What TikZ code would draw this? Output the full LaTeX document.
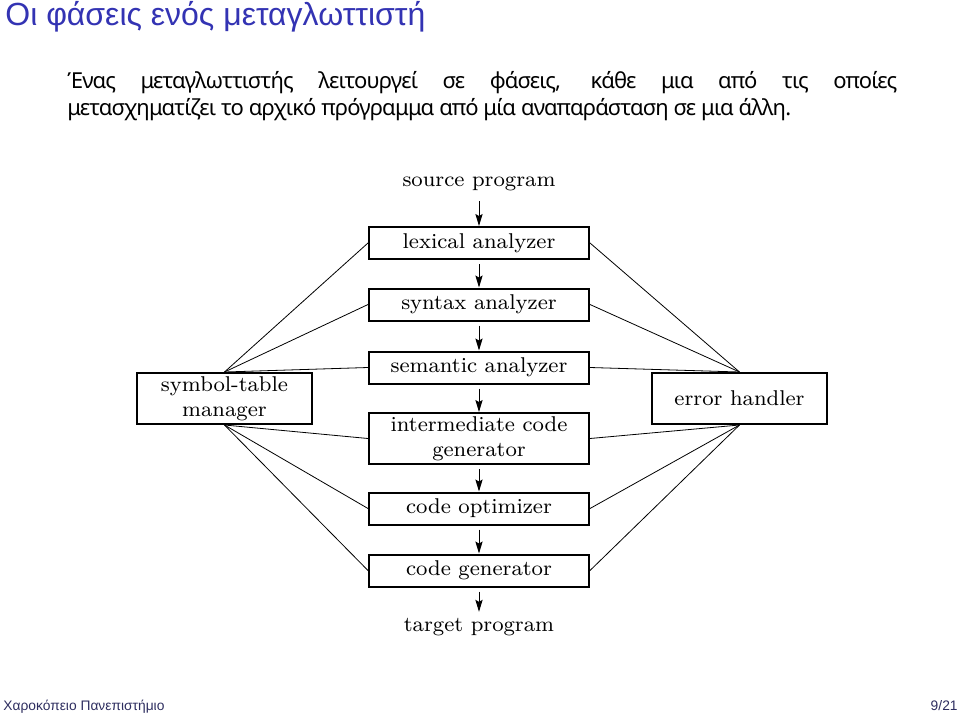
\documentclass[tikz,border=0pt]{standalone}
\usepackage{fontspec}
\newfontfamily\titlefont{Liberation Sans}
\newfontfamily\bodyfont[LetterSpace=-3.8]{Noto Sans}
\newfontfamily\boxfont{lmroman8-regular.otf}
\usetikzlibrary{arrows.meta,positioning}
\definecolor{slideblue}{RGB}{51,51,179}
\definecolor{footblue}{RGB}{45,45,95}
\newcommand\diagfont{\boxfont\fontsize{10.7}{12.5}\selectfont}

\begin{document}
\begin{tikzpicture}[x=0.5pt,y=-0.5pt,
  phase/.style={draw, line width=1pt, minimum width=110pt, minimum height=16pt,
    inner sep=0pt, align=center, font=\diagfont},
  side/.style={phase, minimum width=87.5pt, minimum height=25.5pt},
  plain/.style={inner sep=3pt, font=\diagfont},
  flow/.style={-{Stealth[length=6pt,width=3.6pt,inset=1pt]}, line width=0.5pt, shorten <=2pt},
  link/.style={line width=0.4pt}]
\useasboundingbox (0,0) rectangle (960,718);

% slide title, text and footer
\node[anchor=base west, inner sep=0pt, font=\titlefont\fontsize{16}{18}\selectfont, text=slideblue]
  (title) at (5,25) {Οι φάσεις ενός μεταγλωττιστή};
\node[anchor=base west, inner sep=0pt, font=\bodyfont\fontsize{11}{13}\selectfont]
  (line1) at (67,88) {\makebox[415pt][s]{Ένας μεταγλωττιστής λειτουργεί σε φάσεις, κάθε μια από τις οποίες}};
\node[anchor=base west, inner sep=0pt, font=\bodyfont\fontsize{11}{13}\selectfont]
  (line2) at (67,115) {μετασχηματίζει το αρχικό πρόγραμμα από μία αναπαράσταση σε μια άλλη.};
\node[anchor=base west, inner sep=0pt, font=\titlefont\fontsize{6.9}{8}\selectfont, text=footblue]
  (uni) at (3,710) {Χαροκόπειο Πανεπιστήμιο};
\node[anchor=base east, inner sep=0pt, font=\titlefont\fontsize{6.9}{8}\selectfont, text=footblue]
  (page) at (958,710) {9/21};

% phases
\node[plain] (src) at (479,184) {source program};
\node[phase] (lex) at (479,243) {lexical analyzer};
\node[phase] (syn) at (479,304.5) {syntax analyzer};
\node[phase] (sem) at (479,367.5) {semantic analyzer};
\node[phase, minimum height=25.5pt] (inter) at (479,438.5) {intermediate code\\generator};
\node[phase] (opt) at (479,508.5) {code optimizer};
\node[phase] (gen) at (479,570.5) {code generator};
\node[plain] (tgt) at (479,627) {target program};

\node[side] (sym) at (224.5,398.5) {symbol-table\\manager};
\node[side] (err) at (739.5,398.5) {error handler};

\foreach \a/\b in {src/lex,lex/syn,syn/sem,sem/inter,inter/opt,opt/gen,gen/tgt}
  \draw[flow] (\a.south) -- (\b.north);

\foreach \p in {lex,syn,sem} {
  \draw[link] (sym.north) -- (\p.west);
  \draw[link] (err.north) -- (\p.east);
}
\foreach \p in {inter,opt,gen} {
  \draw[link] (sym.south) -- (\p.west);
  \draw[link] (err.south) -- (\p.east);
}
\end{tikzpicture}
\end{document}
